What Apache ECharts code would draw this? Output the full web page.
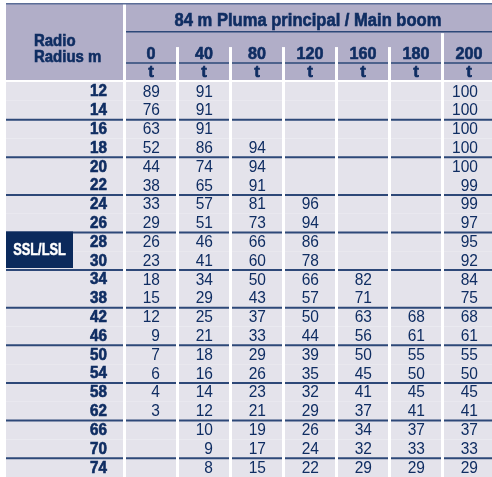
<!DOCTYPE html>
<html>
<head>
<meta charset="utf-8">
<script src="https://cdn.jsdelivr.net/npm/echarts@6/dist/echarts.min.js"></script>
<style>
  html, body { margin: 0; padding: 0; background: #fff; }
  #chart { width: 492px; height: 477px; }
</style>
</head>
<body>
<div id="chart"></div>
<script>
// load chart: radius (m) x boom angle column, loads in t
const radii = [12, 14, 16, 18, 20, 22, 24, 26, 28, 30, 34, 38, 42, 46, 50, 54, 58, 62, 66, 70, 74];
const booms = ['0', '40', '80', '120', '160', '180', '200'];
const unitLabel = 't';
const titleText = '84 m Pluma principal / Main boom';
const radiusHeader = ['Radio', 'Radius m'];
const sslLabel = 'SSL/LSL';
const sslRadii = [28, 30];

const load0 = [89, 76, 63, 52, 44, 38, 33, 29, 26, 23, 18, 15, 12, 9, 7, 6, 4, 3, null, null, null];
const load40 = [91, 91, 91, 86, 74, 65, 57, 51, 46, 41, 34, 29, 25, 21, 18, 16, 14, 12, 10, 9, 8];
const load80 = [null, null, null, 94, 94, 91, 81, 73, 66, 60, 50, 43, 37, 33, 29, 26, 23, 21, 19, 17, 15];
const load120 = [null, null, null, null, null, null, 96, 94, 86, 78, 66, 57, 50, 44, 39, 35, 32, 29, 26, 24, 22];
const load160 = [null, null, null, null, null, null, null, null, null, null, 82, 71, 63, 56, 50, 45, 41, 37, 34, 32, 29];
const load180 = [null, null, null, null, null, null, null, null, null, null, null, null, 68, 61, 55, 50, 45, 41, 37, 33, 29];
const load200 = [100, 100, 100, 100, 100, 99, 99, 97, 95, 92, 84, 75, 68, 61, 55, 50, 45, 41, 37, 33, 29];
const loads = [load0, load40, load80, load120, load160, load180, load200];

// header rows live above row 0 on the y axis (units = table rows)
const HEAD = {
  top: -4.15, title: -3.24, titleRule: -2.68, sep: -1.86, sepLast: -2.6,
  num: -1.46, numRule: -1.01, unit: -0.53, bottom: -0.11,
  radio: -2.18, radius: -1.34
};

const C = {
  head: '#b1aec8',
  cell: '#e4e3eb',
  ink: '#0f2d62',
  rule: '#2d4878',
  top: '#5b6d97',
  ssl: '#0b2a5c'
};
const GAP = 3;
const SANS = "'Liberation Sans', Arial, Helvetica, sans-serif";

function box(api, c0, r0, c1, r1) {
  const a = api.coord([c0, r0]);
  const b = api.coord([c1, r1]);
  return { x: a[0], y: a[1], w: b[0] - a[0], h: b[1] - a[1] };
}

// heavy = thin outline to mimic the black condensed face of the print
function txt(x, y, text, font, align, opts) {
  opts = opts || {};
  const fill = opts.fill || C.ink;
  const el = {
    type: 'text', x: x, y: y, scaleX: opts.sx || 1,
    style: { text: text, font: font, fill: fill, align: align, verticalAlign: 'middle' }
  };
  if (opts.heavy) {
    el.style.stroke = fill;
    el.style.lineWidth = opts.heavy;
  }
  return el;
}

function bar(x, y, w, h, fill) {
  return { type: 'rect', shape: { x: x, y: y, width: w, height: h }, style: { fill: fill } };
}

const cellData = [];
booms.forEach((b, c) => radii.forEach((r, i) => cellData.push([c, i])));

const chart = echarts.init(document.getElementById('chart'));

const yAxis = { type: 'value', min: HEAD.top, max: radii.length, inverse: true, show: false };

chart.setOption({
  animation: false,
  grid: [
    { left: 6, top: 4, width: 120, bottom: 0, outerBoundsMode: 'none' },
    { left: 126, top: 4, width: 371, bottom: 0, outerBoundsMode: 'none' }
  ],
  xAxis: [
    { type: 'value', gridIndex: 0, min: 0, max: 1, show: false },
    { type: 'value', gridIndex: 1, min: 0, max: booms.length, show: false }
  ],
  yAxis: [
    Object.assign({ gridIndex: 0 }, yAxis),
    Object.assign({ gridIndex: 1 }, yAxis)
  ],
  series: [
    // column headers
    {
      type: 'custom', xAxisIndex: 1, yAxisIndex: 1, z: 2, silent: true,
      encode: { x: 0, y: 1 },
      data: booms.map((b, c) => [c, HEAD.top]),
      renderItem: function (params, api) {
        const c = api.value(0);
        const b = box(api, c, HEAD.top, c + 1, HEAD.bottom);
        const yOf = v => api.coord([c, v])[1];
        const inner = b.w - GAP;
        const cx = b.x + inner / 2;
        const kids = [
          bar(b.x, b.y, b.w, b.h, C.head),
          bar(b.x, b.y - 1, b.w, 1.5, C.top),
          bar(b.x, yOf(HEAD.titleRule) - 0.75, b.w, 1.5, C.rule)
        ];
        if (c < booms.length - 1) {
          const s = yOf(c === booms.length - 2 ? HEAD.sepLast : HEAD.sep);
          kids.push(bar(b.x + inner, s, GAP, b.y + b.h - s, '#fff'));
        }
        kids.push(bar(b.x, yOf(HEAD.numRule) - 0.75, inner, 1.5, C.rule));
        kids.push(txt(cx, yOf(HEAD.num), booms[c], 'bold 17px ' + SANS, 'center', { heavy: 0.6, sx: 0.95 }));
        kids.push(txt(cx, yOf(HEAD.unit), unitLabel, 'bold 17px ' + SANS, 'center', { heavy: 0.6 }));
        return { type: 'group', children: kids };
      }
    },
    // title across the boom columns
    {
      type: 'custom', xAxisIndex: 1, yAxisIndex: 1, z: 3, silent: true,
      encode: { x: 0, y: 1 },
      data: [[0, HEAD.title]],
      renderItem: function (params, api) {
        const b = box(api, 0, HEAD.title, booms.length, HEAD.title);
        return txt(b.x + (b.w - GAP) / 2 - 2, b.y, titleText, 'bold 18px ' + SANS, 'center', { heavy: 0.6, sx: 0.92 });
      }
    },
    // load cells
    {
      type: 'custom', xAxisIndex: 1, yAxisIndex: 1, z: 2, silent: true,
      encode: { x: 0, y: 1 },
      data: cellData,
      renderItem: function (params, api) {
        const c = api.value(0);
        const r = api.value(1);
        const b = box(api, c, r, c + 1, r + 1);
        const kids = [bar(b.x, b.y, b.w - GAP, b.h, C.cell)];
        if (r > 0 && r % 2 === 0) kids.push(bar(b.x, b.y - 1, b.w - GAP, 2, C.rule));
        const v = loads[c][r];
        if (v != null) {
          kids.push(txt(b.x + b.w - GAP - 16, b.y + b.h / 2 + 0.5, String(v), '16.5px ' + SANS, 'right', { sx: 0.94 }));
        }
        return { type: 'group', children: kids };
      }
    },
    // radius header
    {
      type: 'custom', xAxisIndex: 0, yAxisIndex: 0, z: 2, silent: true,
      encode: { x: 0, y: 1 },
      data: [[0, HEAD.top]],
      renderItem: function (params, api) {
        const b = box(api, 0, HEAD.top, 1, HEAD.bottom);
        const yOf = v => api.coord([0, v])[1];
        return {
          type: 'group',
          children: [
            bar(b.x, b.y, b.w - GAP, b.h, C.head),
            bar(b.x, b.y - 1, b.w, 1.5, C.top),
            txt(b.x + 28, yOf(HEAD.radio), radiusHeader[0], 'bold 17px ' + SANS, 'left', { heavy: 0.6, sx: 0.88 }),
            txt(b.x + 28, yOf(HEAD.radius), radiusHeader[1], 'bold 17px ' + SANS, 'left', { heavy: 0.6, sx: 0.88 })
          ]
        };
      }
    },
    // radius rows
    {
      type: 'custom', xAxisIndex: 0, yAxisIndex: 0, z: 2, silent: true,
      encode: { x: 0, y: 1 },
      data: radii.map((v, i) => [0, i]),
      renderItem: function (params, api) {
        const r = api.value(1);
        const b = box(api, 0, r, 1, r + 1);
        const kids = [bar(b.x, b.y, b.w - GAP, b.h, C.cell)];
        if (r > 0 && r % 2 === 0) kids.push(bar(b.x, b.y - 1, b.w - GAP, 2, C.rule));
        kids.push(txt(b.x + b.w - GAP - 16, b.y + b.h / 2 + 0.5, String(radii[r]), 'bold 16px ' + SANS, 'right', { heavy: 0.6, sx: 0.95 }));
        return { type: 'group', children: kids };
      }
    },
    // SSL/LSL marker
    {
      type: 'custom', xAxisIndex: 0, yAxisIndex: 0, z: 3, silent: true,
      encode: { x: 0, y: 1 },
      data: [[0, radii.indexOf(sslRadii[0]), radii.indexOf(sslRadii[sslRadii.length - 1]) + 1]],
      renderItem: function (params, api) {
        const b = box(api, 0, api.value(1), 1, api.value(2));
        return {
          type: 'group',
          children: [
            bar(b.x, b.y - 1, 67, b.h - 1, C.ssl),
            txt(b.x + 33.5, b.y + b.h / 2 - 1, sslLabel, 'bold 16px ' + SANS, 'center', { fill: '#fff', heavy: 0.5, sx: 0.8 })
          ]
        };
      }
    }
  ]
});
</script>
</body>
</html>
